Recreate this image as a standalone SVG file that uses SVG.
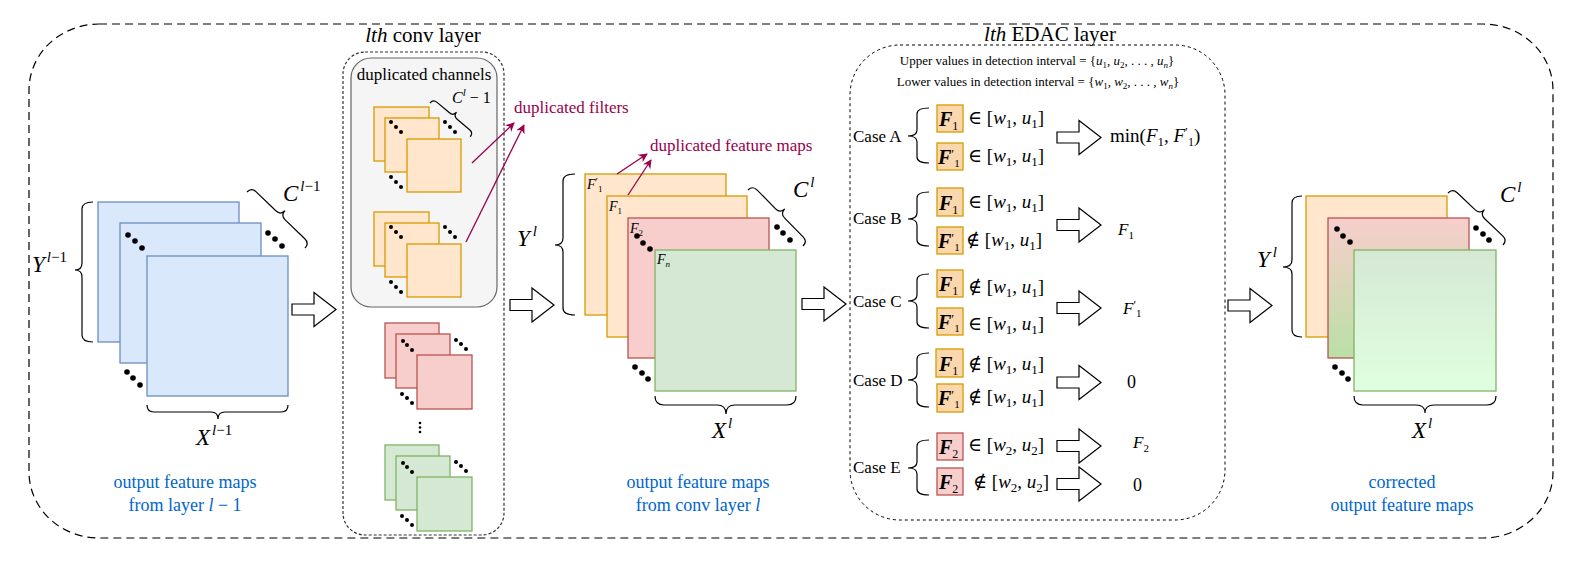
<svg xmlns="http://www.w3.org/2000/svg" width="1581" height="570" viewBox="0 0 1581 570" font-family="'Liberation Serif', 'Times New Roman', Times, Tinos, 'Noto Serif', 'DejaVu Serif', FreeSerif, serif">
<defs>
<style>
text{font-family:'Liberation Serif','Times New Roman',Times,Tinos,'Noto Serif','DejaVu Serif',FreeSerif,serif}
.t{fill:#000}
.i{font-style:italic}
.blue{fill:#0066cc;font-size:18px}
.pur{fill:#99004d;font-size:17px}
.o{fill:#ffe6cc;stroke:#d79b00;stroke-width:1.3}
.rd{fill:#f8cecc;stroke:#b85450;stroke-width:1.3}
.g{fill:#d5e8d4;stroke:#82b366;stroke-width:1.3}
.b{fill:#dae8fc;stroke:#6c8ebf;stroke-width:1.3}
.br{fill:none;stroke:#000;stroke-width:1.2}
.blk{fill:#fff;stroke:#000;stroke-width:1.2}
.fb{fill:#fad7ac;stroke:#d79b00;stroke-width:1.3}
.fr{fill:#f8cecc;stroke:#b85450;stroke-width:1.3}
.pl{stroke:#99004d;stroke-width:1.3;fill:none;marker-end:url(#ph)}
.d{fill:#000}
.pr{font-style:normal;font-weight:normal}
</style>
<path id="arr" d="M0,-5.5H22V-17L44,0L22,17V5.5H0Z"/>
<marker id="ph" viewBox="0 0 10 10" refX="9" refY="5" markerWidth="7" markerHeight="7" orient="auto"><path d="M0,0L10,5L0,10L3,5Z" fill="#99004d"/></marker>
<linearGradient id="gr" x1="0" y1="0" x2="0" y2="1"><stop offset="0" stop-color="#f8cecc"/><stop offset="1" stop-color="#b9e0a5"/></linearGradient>
<linearGradient id="gg" x1="0" y1="0" x2="0" y2="1"><stop offset="0" stop-color="#d5e8d4"/><stop offset="1" stop-color="#e0ffe0"/></linearGradient>
</defs>
<rect width="1581" height="570" fill="#fff"/>

<g id="outer">
<rect x="29" y="24" width="1524" height="514" rx="70" ry="66" fill="none" stroke="#000" stroke-width="1.2" stroke-dasharray="8 5"/>
</g>

<g id="input-maps">
<rect class="b" x="98" y="202" width="141" height="140"/>
<rect class="b" x="120" y="223" width="141" height="140"/>
<rect class="b" x="147" y="256" width="141" height="140"/>
<circle class="d" cx="128" cy="235" r="2.8"/><circle class="d" cx="135" cy="241" r="2.8"/><circle class="d" cx="142" cy="248" r="2.8"/>
<circle class="d" cx="268" cy="233" r="2.8"/><circle class="d" cx="275" cy="239" r="2.8"/><circle class="d" cx="282" cy="246" r="2.8"/>
<circle class="d" cx="127" cy="372" r="2.8"/><circle class="d" cx="133" cy="378" r="2.8"/><circle class="d" cx="140" cy="385" r="2.8"/>
<path class="br" d="M93,202 Q82,202 82,209 V263 Q82,270 75,270 Q82,270 82,277 V335 Q82,342 93,342"/>
<path class="br" d="M147,405 Q147,412 154,412 H211 Q218,412 218,419 Q218,412 225,412 H281 Q288,412 288,405"/>
<path class="br" transform="translate(247,192) rotate(44)" d="M0,0 Q0,-6.5 6.5,-6.5 H33.8 Q40.3,-6.5 40.3,-13 Q40.3,-6.5 46.8,-6.5 H74.1 Q80.6,-6.5 80.6,0"/>
<text class="t i" x="32" y="272" font-size="23">Y<tspan font-size="15" dy="-10" dx="2">l</tspan><tspan font-size="15" class="pr">−1</tspan></text>
<text class="t i" x="283" y="201" font-size="23">C<tspan font-size="15" dy="-10" dx="2">l</tspan><tspan font-size="15" class="pr">−1</tspan></text>
<text class="t i" x="196" y="445" font-size="23">X<tspan font-size="15" dy="-10" dx="2">l</tspan><tspan font-size="15" class="pr">−1</tspan></text>
<text class="t blue" x="185" y="488" text-anchor="middle">output feature maps</text>
<text class="t blue" x="185" y="511" text-anchor="middle">from layer <tspan class="i">l</tspan> − 1</text>
</g>

<g id="conv-layer">
<rect x="343" y="52" width="161" height="483" rx="22" fill="none" stroke="#333" stroke-width="1.2" stroke-dasharray="3 2"/>
<text class="t" x="423" y="42" font-size="21" text-anchor="middle"><tspan class="i">lth</tspan> conv layer</text>
<rect x="351" y="58" width="146" height="249" rx="20" fill="#f5f5f5" stroke="#666" stroke-width="1.2"/>
<text class="t" x="424" y="80" font-size="17" text-anchor="middle">duplicated channels</text>
<g id="dup-filter-1">
<rect class="o" x="374" y="107" width="55" height="54"/>
<rect class="o" x="385" y="118" width="54" height="54"/>
<rect class="o" x="407" y="139" width="54" height="53"/>
<circle class="d" cx="391" cy="122" r="2"/><circle class="d" cx="396" cy="127" r="2"/><circle class="d" cx="401" cy="132" r="2"/>
<circle class="d" cx="445" cy="122" r="2"/><circle class="d" cx="450" cy="127" r="2"/><circle class="d" cx="455" cy="132" r="2"/>
<circle class="d" cx="391" cy="177" r="2"/><circle class="d" cx="396" cy="182" r="2"/><circle class="d" cx="401" cy="187" r="2"/>
</g>
<path class="br" transform="translate(430,103) rotate(40)" d="M0,0 Q0,-5 5,-5 H21.25 Q26.25,-5 26.25,-10 Q26.25,-5 31.25,-5 H47.5 Q52.5,-5 52.5,0"/>
<text class="t" x="452" y="103" font-size="16"><tspan class="i">C</tspan><tspan font-size="11" dy="-7" class="i">l</tspan><tspan dy="7"> − 1</tspan></text>
<g id="dup-filter-2">
<rect class="o" x="374" y="212" width="55" height="54"/>
<rect class="o" x="385" y="223" width="54" height="54"/>
<rect class="o" x="407" y="244" width="54" height="53"/>
<circle class="d" cx="391" cy="227" r="2"/><circle class="d" cx="396" cy="232" r="2"/><circle class="d" cx="401" cy="237" r="2"/>
<circle class="d" cx="445" cy="227" r="2"/><circle class="d" cx="450" cy="232" r="2"/><circle class="d" cx="455" cy="237" r="2"/>
<circle class="d" cx="391" cy="282" r="2"/><circle class="d" cx="396" cy="287" r="2"/><circle class="d" cx="401" cy="292" r="2"/>
</g>
<g id="filter-red">
<rect class="rd" x="385" y="323" width="54" height="55"/>
<rect class="rd" x="396" y="334" width="54" height="54"/>
<rect class="rd" x="417" y="355" width="55" height="54"/>
<circle class="d" cx="403" cy="341" r="2"/><circle class="d" cx="407" cy="345" r="2"/><circle class="d" cx="412" cy="350" r="2"/>
<circle class="d" cx="456" cy="340" r="2"/><circle class="d" cx="461" cy="344" r="2"/><circle class="d" cx="466" cy="349" r="2"/>
<circle class="d" cx="402" cy="394" r="2"/><circle class="d" cx="407" cy="398" r="2"/><circle class="d" cx="412" cy="403" r="2"/>
</g>
<circle class="d" cx="420" cy="423" r="1.3"/><circle class="d" cx="420" cy="427.5" r="1.3"/><circle class="d" cx="420" cy="432" r="1.3"/>
<g id="filter-green">
<rect class="g" x="385" y="445" width="54" height="55"/>
<rect class="g" x="396" y="456" width="54" height="54"/>
<rect class="g" x="417" y="477" width="55" height="54"/>
<circle class="d" cx="403" cy="463" r="2"/><circle class="d" cx="407" cy="467" r="2"/><circle class="d" cx="412" cy="472" r="2"/>
<circle class="d" cx="456" cy="462" r="2"/><circle class="d" cx="461" cy="466" r="2"/><circle class="d" cx="466" cy="471" r="2"/>
<circle class="d" cx="402" cy="516" r="2"/><circle class="d" cx="407" cy="520" r="2"/><circle class="d" cx="412" cy="525" r="2"/>
</g>
</g>

<g id="labels-purple">
<text class="t pur" x="514" y="113">duplicated filters</text>
<text class="t pur" x="650" y="151">duplicated feature maps</text>
</g>

<g id="conv-maps">
<rect class="o" x="585" y="174" width="141" height="141"/>
<rect class="o" x="607" y="196" width="140" height="141"/>
<rect class="rd" x="628" y="218" width="141" height="140"/>
<rect class="g" x="655" y="250" width="141" height="141"/>
<text class="t i" x="587" y="189" font-size="14">F<tspan font-size="11" dy="-4" class="pr">′</tspan><tspan font-size="9" dy="7" class="pr">1</tspan></text>
<text class="t i" x="609" y="211" font-size="14">F<tspan font-size="9" dy="3" class="pr">1</tspan></text>
<text class="t i" x="630" y="233" font-size="14">F<tspan font-size="9" dy="3" class="pr">2</tspan></text>
<text class="t i" x="657" y="264" font-size="14">F<tspan font-size="9" dy="3">n</tspan></text>
<circle class="d" cx="637" cy="236" r="2.8"/><circle class="d" cx="643" cy="243" r="2.8"/><circle class="d" cx="650" cy="249" r="2.8"/>
<circle class="d" cx="777" cy="227" r="2.8"/><circle class="d" cx="783" cy="233" r="2.8"/><circle class="d" cx="790" cy="240" r="2.8"/>
<circle class="d" cx="635" cy="367" r="2.8"/><circle class="d" cx="642" cy="373" r="2.8"/><circle class="d" cx="648" cy="379" r="2.8"/>
<path class="br" d="M575,174 Q563,174 563,181 V238 Q563,245 555,245 Q563,245 563,252 V308 Q563,315 575,315"/>
<path class="br" d="M655,396 Q655,405 664,405 H717 Q726,405 726,414 Q726,405 735,405 H787 Q796,405 796,396"/>
<path class="br" transform="translate(748,190) rotate(45.5)" d="M0,0 Q0,-6.5 6.5,-6.5 H32.75 Q39.25,-6.5 39.25,-13 Q39.25,-6.5 45.75,-6.5 H72 Q78.5,-6.5 78.5,0"/>
<text class="t i" x="517" y="246" font-size="23">Y<tspan font-size="15" dy="-10" dx="3">l</tspan></text>
<text class="t i" x="793" y="197" font-size="23">C<tspan font-size="15" dy="-10" dx="2">l</tspan></text>
<text class="t i" x="712" y="438" font-size="23">X<tspan font-size="15" dy="-10" dx="2">l</tspan></text>
<text class="t blue" x="698" y="488" text-anchor="middle">output feature maps</text>
<text class="t blue" x="698" y="511" text-anchor="middle">from conv layer <tspan class="i">l</tspan></text>
</g>

<g id="edac-layer">
<rect x="850" y="45" width="375" height="475" rx="50" fill="none" stroke="#000" stroke-width="1" stroke-dasharray="3 3"/>
<text class="t" x="1050" y="41" font-size="21" text-anchor="middle"><tspan class="i">lth</tspan> EDAC layer</text>
<text class="t" x="1037" y="65" font-size="13" text-anchor="middle">Upper values in detection interval = {<tspan class="i">u</tspan><tspan font-size="9" dy="3">1</tspan><tspan dy="-3">, </tspan><tspan class="i">u</tspan><tspan font-size="9" dy="3">2</tspan><tspan dy="-3">, . . . , </tspan><tspan class="i">u</tspan><tspan font-size="9" dy="3" class="i">n</tspan><tspan dy="-3">}</tspan></text>
<text class="t" x="1038" y="86" font-size="13" text-anchor="middle">Lower values in detection interval = {<tspan class="i">w</tspan><tspan font-size="9" dy="3">1</tspan><tspan dy="-3">, </tspan><tspan class="i">w</tspan><tspan font-size="9" dy="3">2</tspan><tspan dy="-3">, . . . , </tspan><tspan class="i">w</tspan><tspan font-size="9" dy="3" class="i">n</tspan><tspan dy="-3">}</tspan></text>

<g id="case-a">
<text class="t" x="853" y="142" font-size="17">Case A</text>
<path class="br" d="M929,108 Q917,108 917,114 V130 Q917,136 908,136 Q917,136 917,142 V157 Q917,163 929,163"/>
<rect class="fb" x="937" y="105" width="26" height="27"/>
<text class="t i" x="939" y="126" font-size="20" font-weight="bold">F<tspan font-size="12" dy="4" class="pr">1</tspan></text>
<text class="t" x="968" y="124" font-size="19">∈ [<tspan class="i">w</tspan><tspan font-size="13" dy="4">1</tspan><tspan dy="-4">, </tspan><tspan class="i">u</tspan><tspan font-size="13" dy="4">1</tspan><tspan dy="-4">]</tspan></text>
<rect class="fb" x="937" y="143" width="26" height="27"/>
<text class="t i" x="938" y="164" font-size="20" font-weight="bold">F<tspan font-size="13" dy="-6" class="pr">′</tspan><tspan font-size="11" dy="9" class="pr">1</tspan></text>
<text class="t" x="968" y="162" font-size="19">∈ [<tspan class="i">w</tspan><tspan font-size="13" dy="4">1</tspan><tspan dy="-4">, </tspan><tspan class="i">u</tspan><tspan font-size="13" dy="4">1</tspan><tspan dy="-4">]</tspan></text>
<text class="t" x="1110" y="142" font-size="19">min(<tspan class="i">F</tspan><tspan font-size="13" dy="4">1</tspan><tspan dy="-4">, </tspan><tspan class="i">F</tspan><tspan font-size="13" dy="-6">′</tspan><tspan font-size="12" dy="10">1</tspan><tspan dy="-4">)</tspan></text>
</g>

<g id="case-b">
<text class="t" x="853" y="224" font-size="17">Case B</text>
<path class="br" d="M929,192 Q917,192 917,198 V213 Q917,219 908,219 Q917,219 917,225 V240 Q917,246 929,246"/>
<rect class="fb" x="937" y="188" width="26" height="28"/>
<text class="t i" x="939" y="210" font-size="20" font-weight="bold">F<tspan font-size="12" dy="4" class="pr">1</tspan></text>
<text class="t" x="968" y="208" font-size="19">∈ [<tspan class="i">w</tspan><tspan font-size="13" dy="4">1</tspan><tspan dy="-4">, </tspan><tspan class="i">u</tspan><tspan font-size="13" dy="4">1</tspan><tspan dy="-4">]</tspan></text>
<rect class="fb" x="937" y="227" width="26" height="27"/>
<text class="t i" x="938" y="248" font-size="20" font-weight="bold">F<tspan font-size="13" dy="-6" class="pr">′</tspan><tspan font-size="11" dy="9" class="pr">1</tspan></text>
<text class="t" x="966" y="246" font-size="19">∉ [<tspan class="i">w</tspan><tspan font-size="13" dy="4">1</tspan><tspan dy="-4">, </tspan><tspan class="i">u</tspan><tspan font-size="13" dy="4">1</tspan><tspan dy="-4">]</tspan></text>
<text class="t i" x="1118" y="235" font-size="17">F<tspan font-size="11" dy="4" class="pr">1</tspan></text>
</g>

<g id="case-c">
<text class="t" x="853" y="307" font-size="17">Case C</text>
<path class="br" d="M929,274 Q917,274 917,280 V295 Q917,301 908,301 Q917,301 917,307 V322 Q917,328 929,328"/>
<rect class="fb" x="937" y="270" width="26" height="27"/>
<text class="t i" x="939" y="291" font-size="20" font-weight="bold">F<tspan font-size="12" dy="4" class="pr">1</tspan></text>
<text class="t" x="968" y="293" font-size="19">∉ [<tspan class="i">w</tspan><tspan font-size="13" dy="4">1</tspan><tspan dy="-4">, </tspan><tspan class="i">u</tspan><tspan font-size="13" dy="4">1</tspan><tspan dy="-4">]</tspan></text>
<rect class="fb" x="937" y="308" width="26" height="27"/>
<text class="t i" x="938" y="329" font-size="20" font-weight="bold">F<tspan font-size="13" dy="-6" class="pr">′</tspan><tspan font-size="11" dy="9" class="pr">1</tspan></text>
<text class="t" x="968" y="330" font-size="19">∈ [<tspan class="i">w</tspan><tspan font-size="13" dy="4">1</tspan><tspan dy="-4">, </tspan><tspan class="i">u</tspan><tspan font-size="13" dy="4">1</tspan><tspan dy="-4">]</tspan></text>
<text class="t i" x="1123" y="314" font-size="17">F<tspan font-size="12" dy="-5" class="pr">′</tspan><tspan font-size="11" dy="8" class="pr">1</tspan></text>
</g>

<g id="case-d">
<text class="t" x="853" y="386" font-size="17">Case D</text>
<path class="br" d="M929,353 Q917,353 917,359 V374 Q917,380 908,380 Q917,380 917,386 V401 Q917,407 929,407"/>
<rect class="fb" x="936" y="349" width="27" height="28"/>
<text class="t i" x="939" y="371" font-size="20" font-weight="bold">F<tspan font-size="12" dy="4" class="pr">1</tspan></text>
<text class="t" x="968" y="370" font-size="19">∉ [<tspan class="i">w</tspan><tspan font-size="13" dy="4">1</tspan><tspan dy="-4">, </tspan><tspan class="i">u</tspan><tspan font-size="13" dy="4">1</tspan><tspan dy="-4">]</tspan></text>
<rect class="fb" x="937" y="384" width="26" height="28"/>
<text class="t i" x="938" y="405" font-size="20" font-weight="bold">F<tspan font-size="13" dy="-6" class="pr">′</tspan><tspan font-size="11" dy="9" class="pr">1</tspan></text>
<text class="t" x="968" y="403" font-size="19">∉ [<tspan class="i">w</tspan><tspan font-size="13" dy="4">1</tspan><tspan dy="-4">, </tspan><tspan class="i">u</tspan><tspan font-size="13" dy="4">1</tspan><tspan dy="-4">]</tspan></text>
<text class="t" x="1127" y="388" font-size="18">0</text>
</g>

<g id="case-e">
<text class="t" x="853" y="473" font-size="17">Case E</text>
<path class="br" d="M929,440 Q917,440 917,446 V462 Q917,468 908,468 Q917,468 917,474 V489 Q917,495 929,495"/>
<rect class="fr" x="937" y="433" width="26" height="27"/>
<text class="t i" x="939" y="454" font-size="20" font-weight="bold">F<tspan font-size="12" dy="4" class="pr">2</tspan></text>
<text class="t" x="968" y="451" font-size="19">∈ [<tspan class="i">w</tspan><tspan font-size="13" dy="4">2</tspan><tspan dy="-4">, </tspan><tspan class="i">u</tspan><tspan font-size="13" dy="4">2</tspan><tspan dy="-4">]</tspan></text>
<rect class="fr" x="937" y="468" width="26" height="27"/>
<text class="t i" x="939" y="489" font-size="20" font-weight="bold">F<tspan font-size="12" dy="4" class="pr">2</tspan></text>
<text class="t" x="973" y="488" font-size="19">∉ [<tspan class="i">w</tspan><tspan font-size="13" dy="4">2</tspan><tspan dy="-4">, </tspan><tspan class="i">u</tspan><tspan font-size="13" dy="4">2</tspan><tspan dy="-4">]</tspan></text>
<text class="t i" x="1133" y="448" font-size="17">F<tspan font-size="11" dy="4" class="pr">2</tspan></text>
<text class="t" x="1133" y="491" font-size="18">0</text>
</g>
</g>

<g id="corrected-maps">
<rect class="o" x="1306" y="196" width="141" height="141"/>
<rect x="1328" y="218" width="141" height="140" fill="url(#gr)" stroke="#b85450" stroke-width="1.3"/>
<rect x="1354" y="250" width="142" height="141" fill="url(#gg)" stroke="#82b366" stroke-width="1.3"/>
<circle class="d" cx="1337" cy="229" r="2.8"/><circle class="d" cx="1343" cy="236" r="2.8"/><circle class="d" cx="1350" cy="242" r="2.8"/>
<circle class="d" cx="1476" cy="228" r="2.8"/><circle class="d" cx="1483" cy="234" r="2.8"/><circle class="d" cx="1489" cy="240" r="2.8"/>
<circle class="d" cx="1335" cy="367" r="2.8"/><circle class="d" cx="1342" cy="373" r="2.8"/><circle class="d" cx="1348" cy="379" r="2.8"/>
<path class="br" d="M1302,196 Q1292,196 1292,203 V260 Q1292,267 1283,267 Q1292,267 1292,274 V330 Q1292,337 1302,337"/>
<path class="br" d="M1354,396 Q1354,405 1363,405 H1416 Q1425,405 1425,413 Q1425,405 1434,405 H1487 Q1496,405 1496,396"/>
<path class="br" transform="translate(1448,193) rotate(43.4)" d="M0,0 Q0,-6.5 6.5,-6.5 H31.35 Q37.85,-6.5 37.85,-13 Q37.85,-6.5 44.35,-6.5 H69.2 Q75.7,-6.5 75.7,0"/>
<text class="t i" x="1257" y="267" font-size="23">Y<tspan font-size="15" dy="-10" dx="3">l</tspan></text>
<text class="t i" x="1500" y="202" font-size="23">C<tspan font-size="15" dy="-10" dx="2">l</tspan></text>
<text class="t i" x="1412" y="438" font-size="23">X<tspan font-size="15" dy="-10" dx="2">l</tspan></text>
<text class="t blue" x="1402" y="488" text-anchor="middle">corrected</text>
<text class="t blue" x="1402" y="511" text-anchor="middle">output feature maps</text>
</g>

<g id="connectors">
<use href="#arr" class="blk" transform="translate(292,309.5)"/>
<use href="#arr" class="blk" transform="translate(510,305)"/>
<use href="#arr" class="blk" transform="translate(802,304)"/>
<use href="#arr" class="blk" transform="translate(1228,305.5)"/>
<use href="#arr" class="blk" transform="translate(1057,137.5)"/>
<use href="#arr" class="blk" transform="translate(1057,225)"/>
<use href="#arr" class="blk" transform="translate(1057,308)"/>
<use href="#arr" class="blk" transform="translate(1057,382.5)"/>
<use href="#arr" class="blk" transform="translate(1057,446)"/>
<use href="#arr" class="blk" transform="translate(1057,484)"/>
<line class="pl" x1="472" y1="163" x2="514" y2="123"/>
<line class="pl" x1="466" y1="242" x2="524" y2="125"/>
<line class="pl" x1="617" y1="174" x2="647" y2="154"/>
<line class="pl" x1="628" y1="195" x2="651" y2="160"/>
</g>
</svg>
